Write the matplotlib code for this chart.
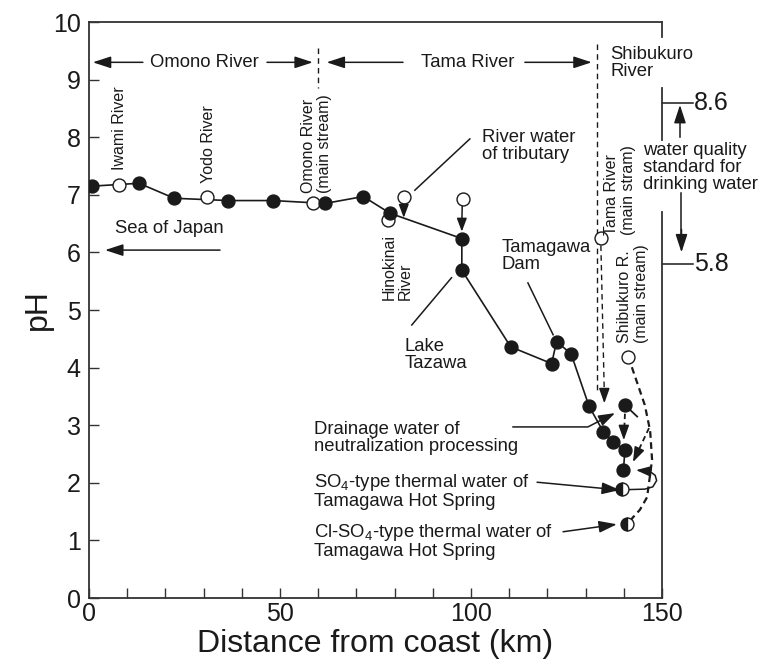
import matplotlib
matplotlib.use('Agg')
import matplotlib.pyplot as plt

plt.rcParams['font.family'] = ['Liberation Sans', 'DejaVu Sans']
plt.rcParams['mathtext.fontset'] = 'custom'
plt.rcParams['mathtext.rm'] = 'Liberation Sans'
plt.rcParams['mathtext.it'] = 'Liberation Sans:italic'
plt.rcParams['mathtext.bf'] = 'Liberation Sans:bold'

INK = '#1a1a1a'

# main stream samples (filled circles, joined)
main_km = [0.7, 13.1, 22.3, 36.5, 48.2, 61.8, 71.8, 78.8, 97.6, 97.6,
           110.4, 121.1, 122.4, 126.2, 130.9, 134.6, 137.3, 140.3, 139.9]
main_ph = [7.15, 7.20, 6.94, 6.90, 6.90, 6.85, 6.97, 6.68, 6.24, 5.69,
           4.36, 4.07, 4.45, 4.24, 3.33, 2.89, 2.71, 2.57, 2.22]
# point above the confluence on the Shibukuro side
branch_km = [140.3]
branch_ph = [3.35]
# tributaries (open circles)
trib_km = [7.9, 30.8, 58.6, 78.3, 82.5, 97.8, 134.0, 141.2]
trib_ph = [7.17, 6.96, 6.85, 6.56, 6.97, 6.92, 6.25, 4.19]
# thermal water (half filled)
hot_km = [139.4, 140.9]
hot_ph = [1.89, 1.28]
# drinking water standard
std_ph = [8.6, 5.8]

# dashed flow path of the Shibukuro main stream
shib_km = [141.2, 142.4, 145.5, 146.9, 147.4, 146.1, 144.2, 142.4, 140.9]
shib_ph = [4.19, 3.95, 3.35, 2.90, 2.40, 1.75, 1.53, 1.40, 1.28]
# loop from SO4 spring back to the river
loop_km = [140.2, 145.5, 147.6, 148.6, 148.2, 147.0, 145.0]
loop_ph = [1.88, 1.89, 1.93, 2.04, 2.13, 2.19, 2.21]

fig = plt.figure(figsize=(7.62, 6.64), dpi=100)
ax = fig.add_axes([89 / 762, 66 / 664, 573 / 762, 576 / 664])
ax.set_xlim(0, 150)
ax.set_ylim(0, 10)


def arrow(tail, tip, hl=1.1, hw=0.36, lw=1.1):
    ax.annotate('', xy=tip, xytext=tail, annotation_clip=False,
                arrowprops=dict(arrowstyle='-|>,head_length=%s,head_width=%s' % (hl, hw),
                                color=INK, lw=lw, shrinkA=0, shrinkB=0,
                                mutation_scale=10))


def line(xs, ys, **kw):
    kw.setdefault('color', INK)
    kw.setdefault('lw', 1.1)
    ax.plot(xs, ys, clip_on=False, zorder=2, **kw)


# main chain
ax.plot(main_km, main_ph, '-', color=INK, lw=1.2, zorder=2)
ax.plot(trib_km, trib_ph, 'o', ms=9.3, mfc='white', mec=INK, mew=1.0, zorder=3, clip_on=False)
ax.plot(main_km, main_ph, 'o', ms=9.3, mfc=INK, mec=INK, zorder=4)
ax.plot(branch_km, branch_ph, 'o', ms=9.3, mfc=INK, mec=INK, zorder=4)
ax.plot(hot_km, hot_ph, 'o', ms=9.3, mfc=INK, mec=INK, mew=1.0, fillstyle='left',
        markerfacecoloralt='white', zorder=4)

# tributary arrows
line([82.5, 82.4], [6.84, 6.7])
arrow((82.4, 6.72), (82.4, 6.6), hl=0.8, hw=0.3)
line([97.7, 97.6], [6.8, 6.5])
arrow((97.6, 6.5), (97.6, 6.36), hl=0.8, hw=0.3)

# river section headers
hy = 9.3
arrow((14.1, hy), (1.0, hy))
arrow((46.6, hy), (58.6, hy))
ax.text(30.2, hy, 'Omono River', ha='center', va='center', fontsize=13.3, color=INK)
line([59.9, 59.9], [9.55, 8.85], ls=(0, (4, 3)), lw=1.0)
arrow((82.2, hy), (62.2, hy))
arrow((114.1, hy), (131.6, hy))
ax.text(99.2, hy, 'Tama River', ha='center', va='center', fontsize=13.3, color=INK)
line([133.0, 133.0], [9.62, 3.58], ls=(0, (4, 3)), lw=1.0)
ax.text(136.4, 9.28, 'Shibukuro\nRiver', ha='left', va='center', fontsize=13.3,
        color=INK, linespacing=1.0, clip_on=False)

# Tama main stream dashed flow
line([134.0, 134.9], [6.12, 3.55], ls=(0, (4, 3)), lw=1.0)
arrow((134.9, 3.6), (134.9, 3.38), hl=0.9, hw=0.32)

# Sea of Japan
ax.text(6.8, 6.42, 'Sea of Japan', ha='left', va='center', fontsize=13.3, color=INK)
arrow((34.3, 6.04), (4.2, 6.04))

# rotated labels
rot = dict(rotation=90, ha='center', va='bottom', multialignment='left',
           fontsize=11.5, color=INK, linespacing=1.1)
ax.text(8.1, 7.43, 'Iwami River', **rot)
ax.text(31.2, 7.2, 'Yodo River', **rot)
ax.text(59.6, 7.03, 'Omono River\n(main stream)', **rot)
ax.text(80.6, 5.17, 'Hinokinai\nRiver', **rot)
ax.text(139.0, 6.3, 'Tama River\n(main stram)', **rot)
ax.text(142.4, 4.43, 'Shibukuro R.\n(main stream)', **rot)

# callouts
txt = dict(ha='left', va='center', fontsize=13.3, color=INK, linespacing=1.0)
ax.text(102.8, 7.84, 'River water\nof tributary', **txt)
line([99.7, 85.3], [7.97, 7.08])
ax.text(82.5, 4.22, 'Lake\nTazawa', **txt)
line([84.5, 94.9], [4.74, 5.56])
ax.text(108.0, 5.94, 'Tamagawa\nDam', **txt)
line([114.9, 121.5], [5.47, 4.57])
ax.text(58.9, 2.78, 'Drainage water of\nneutralization processing', **txt)
line([111.0, 130.6, 135.6], [2.97, 2.97, 3.14])
arrow((135.6, 3.14), (137.7, 3.21), hl=1.0, hw=0.34)
ax.text(58.9, 1.86, 'SO$_4$-type thermal water of\nTamagawa Hot Spring', **txt)
arrow((117.3, 2.01), (139.0, 1.875))
ax.text(58.9, 0.99, 'Cl-SO$_4$-type thermal water of\nTamagawa Hot Spring', **txt)
arrow((124.1, 1.15), (138.2, 1.28))

# Shibukuro / confluence flows
line(shib_km, shib_ph, ls=(0, (3, 2)), lw=1.6)
line([140.3, 140.1], [3.2, 2.9], ls=(0, (3, 2)), lw=1.3)
arrow((140.0, 2.92), (140.0, 2.74), hl=0.9, hw=0.32)
line([140.3, 143.5], [3.35, 3.15], lw=1.3)
line([146.6, 143.4], [2.95, 2.5], ls=(0, (3, 2)), lw=1.3)
arrow((143.4, 2.5), (142.4, 2.36), hl=0.9, hw=0.32)
line(loop_km, loop_ph, lw=1.1)
arrow((145.0, 2.21), (143.2, 2.22), hl=0.9, hw=0.32)

# drinking water standard on the right
for v in std_ph:
    line([150, 158.1], [v, v], lw=1.1)
    ax.text(158.4, v, '%.1f' % v, ha='left', va='center', fontsize=18, color=INK, clip_on=False)
line([154.7, 154.7], [8.0, 8.4])
arrow((154.7, 8.3), (154.7, 8.56))
line([155.1, 155.1], [7.03, 6.3])
arrow((155.1, 6.4), (155.1, 6.0))
ax.text(145.0, 7.48, 'water quality\nstandard for\ndrinking water', ha='left', va='center',
        fontsize=13.3, color=INK, linespacing=1.0, clip_on=False)

# axes styling
for s in ['left', 'bottom', 'top']:
    ax.spines[s].set_linewidth(1.3)
    ax.spines[s].set_color('#333333')
ax.spines['right'].set_visible(False)
for y0, y1 in [(0, 6.70), (7.95, 8.85), (9.74, 10)]:
    ax.plot([150, 150], [y0, y1], color='#333333', lw=1.3, clip_on=False, zorder=2.5)

ax.set_xticks([0, 50, 100, 150])
ax.set_xticks(range(0, 151, 10), minor=True)
ax.set_yticks(range(0, 11))
ax.tick_params(axis='both', which='both', direction='in', length=7, width=1.0,
               colors='#333333', labelcolor=INK, labelsize=18)
ax.tick_params(axis='x', which='both', top=False, pad=3)
ax.tick_params(axis='y', which='both', right=False, pad=6)
ax.set_xlabel('Distance from coast (km)', fontsize=23, color=INK, labelpad=2)
ax.set_ylabel('pH', fontsize=23, color=INK, labelpad=0)

plt.savefig('out.png', dpi=100)
